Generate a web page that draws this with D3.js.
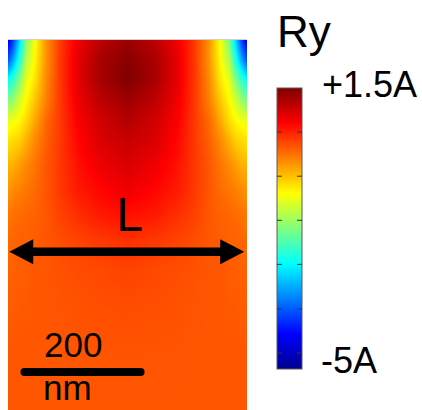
<!DOCTYPE html>
<html>
<head>
<meta charset="utf-8">
<script src="https://cdn.jsdelivr.net/npm/d3@7"></script>
<style>
  html, body { margin: 0; padding: 0; background: #fff; overflow: hidden; }
  text { font-family: "Liberation Sans", Arial, sans-serif; fill: #000; }
</style>
</head>
<body>
<svg id="chart" width="422" height="410"></svg>
<script>
// sample positions of the field (nm)
const xGrid = [0, 8, 18, 29, 43, 61, 84, 113, 148, 192.5, 237, 272, 301, 324, 342, 356, 367, 377, 385];
const yGrid = [0, 32, 64, 97, 129, 161, 201, 242, 282, 322, 370, 435, 515, 596];

// Ry values (in units of A), one row per yGrid entry
const field = [
  [-4.35, -3.83, -2.86, -1.75, -0.97, -0.26, 0.33, 0.79, 1.11, 1.31, 1.11, 0.79, 0.33, -0.26, -0.97, -1.75, -2.86, -3.83, -4.35],
  [-3.70, -3.18, -2.40, -1.43, -0.91, -0.26, 0.33, 0.85, 1.24, 1.44, 1.24, 0.85, 0.33, -0.26, -0.91, -1.43, -2.40, -3.18, -3.70],
  [-2.53, -2.27, -1.75, -1.10, -0.78, -0.19, 0.33, 0.85, 1.24, 1.50, 1.24, 0.85, 0.33, -0.19, -0.78, -1.10, -1.75, -2.27, -2.53],
  [-1.75, -1.62, -1.23, -0.91, -0.58, -0.13, 0.33, 0.79, 1.11, 1.31, 1.11, 0.79, 0.33, -0.13, -0.58, -0.91, -1.23, -1.62, -1.75],
  [-1.10, -1.04, -0.91, -0.71, -0.39, 0.01, 0.33, 0.72, 0.98, 1.18, 0.98, 0.72, 0.33, 0.01, -0.39, -0.71, -0.91, -1.04, -1.10],
  [-0.78, -0.71, -0.65, -0.45, -0.19, 0.07, 0.33, 0.66, 0.92, 1.05, 0.92, 0.66, 0.33, 0.07, -0.19, -0.45, -0.65, -0.71, -0.78],
  [-0.45, -0.45, -0.32, -0.19, -0.06, 0.14, 0.33, 0.59, 0.79, 0.92, 0.79, 0.59, 0.33, 0.14, -0.06, -0.19, -0.32, -0.45, -0.45],
  [-0.26, -0.19, -0.13, -0.06, 0.01, 0.14, 0.33, 0.53, 0.66, 0.79, 0.66, 0.53, 0.33, 0.14, 0.01, -0.06, -0.13, -0.19, -0.26],
  [-0.06, -0.03, 0.01, 0.04, 0.07, 0.14, 0.27, 0.40, 0.53, 0.59, 0.53, 0.40, 0.27, 0.14, 0.07, 0.04, 0.01, -0.03, -0.06],
  [0.01, 0.04, 0.07, 0.07, 0.10, 0.14, 0.20, 0.27, 0.33, 0.40, 0.33, 0.27, 0.20, 0.14, 0.10, 0.07, 0.07, 0.04, 0.01],
  [0.07, 0.07, 0.10, 0.10, 0.14, 0.14, 0.17, 0.20, 0.23, 0.27, 0.23, 0.20, 0.17, 0.14, 0.14, 0.10, 0.10, 0.07, 0.07],
  [0.10, 0.10, 0.12, 0.12, 0.14, 0.14, 0.15, 0.17, 0.18, 0.20, 0.18, 0.17, 0.15, 0.14, 0.14, 0.12, 0.12, 0.10, 0.10],
  [0.14, 0.14, 0.14, 0.14, 0.14, 0.14, 0.14, 0.15, 0.15, 0.15, 0.15, 0.15, 0.14, 0.14, 0.14, 0.14, 0.14, 0.14, 0.14],
  [0.14, 0.14, 0.14, 0.14, 0.14, 0.14, 0.14, 0.14, 0.14, 0.14, 0.14, 0.14, 0.14, 0.14, 0.14, 0.14, 0.14, 0.14, 0.14]
];

const valueDomain = [-5, 1.5];
const valueLabels = ["+1.5A", "-5A"];
const colorTicks = [0.48, -0.54, -1.56, -2.58, -3.61, -4.63];
const title = "Ry";
const arrowLabel = "L";
const arrowSpan = [2, 380.5];   // nm
const arrowDepth = 341;         // nm from top
const scaleBar = [20, 220];     // nm
const scaleBarText = ["200", "nm"];

const svg = d3.select("#chart");

// plot area
const x = d3.scaleLinear().domain([0, 385]).range([8, 247]);
const y = d3.scaleLinear().domain([0, 596]).range([40, 410]);

// jet colormap
const jetPos = [0, 0.125, 0.375, 0.625, 0.875, 1];
const jetCol = ["#00008f", "#0000ff", "#00ffff", "#ffff00", "#ff0000", "#800000"];
const jet = d3.scaleLinear().domain(jetPos).range(jetCol)
  .interpolate(d3.interpolateRgb).clamp(true);
const tOf = d3.scaleLinear().domain(valueDomain).range([0, 1]);

// find grid cell + fraction
function locate(grid, v) {
  let i = d3.bisectRight(grid, v) - 1;
  i = Math.max(0, Math.min(grid.length - 2, i));
  const f = Math.max(0, Math.min(1, (v - grid[i]) / (grid[i + 1] - grid[i])));
  return [i, f];
}

// render the field into an image
const x0 = x.range()[0], x1 = x.range()[1];
const y0 = y.range()[0], y1 = y.range()[1];
const W = Math.round(x1 - x0), H = Math.round(y1 - y0);
const canvas = document.createElement("canvas");
canvas.width = W;
canvas.height = H;
const ctx = canvas.getContext("2d");
const img = ctx.createImageData(W, H);
for (let py = 0; py < H; py++) {
  const [j, fy] = locate(yGrid, y.invert(y0 + py + 0.5));
  for (let px = 0; px < W; px++) {
    const [i, fx] = locate(xGrid, x.invert(x0 + px + 0.5));
    const a = field[j][i] * (1 - fx) + field[j][i + 1] * fx;
    const b = field[j + 1][i] * (1 - fx) + field[j + 1][i + 1] * fx;
    const v = a * (1 - fy) + b * fy;
    const c = d3.rgb(jet(tOf(v)));
    const k = (py * W + px) * 4;
    img.data[k] = c.r; img.data[k + 1] = c.g; img.data[k + 2] = c.b; img.data[k + 3] = 255;
  }
}
ctx.putImageData(img, 0, 0);

svg.append("image")
  .attr("x", x0).attr("y", y0)
  .attr("width", W).attr("height", H)
  .attr("preserveAspectRatio", "none")
  .attr("href", canvas.toDataURL());

svg.append("line")
  .attr("x1", x0).attr("x2", x1)
  .attr("y1", y0 - 0.5).attr("y2", y0 - 0.5)
  .attr("stroke", "#d0d0d0").attr("stroke-width", 1);

// double arrow "L"
const ay = y(arrowDepth);
const ax0 = x(arrowSpan[0]), ax1 = x(arrowSpan[1]);
const headL = 24, headH = 12.5;
svg.append("line")
  .attr("x1", ax0 + headL - 2).attr("x2", ax1 - headL + 2)
  .attr("y1", ay).attr("y2", ay)
  .attr("stroke", "#000").attr("stroke-width", 8.5);
svg.append("path")
  .attr("d", `M${ax0},${ay}L${ax0 + headL},${ay - headH}L${ax0 + headL},${ay + headH}Z`)
  .attr("fill", "#000");
svg.append("path")
  .attr("d", `M${ax1},${ay}L${ax1 - headL},${ay - headH}L${ax1 - headL},${ay + headH}Z`)
  .attr("fill", "#000");
svg.append("text")
  .attr("x", (ax0 + ax1) / 2 + 3).attr("y", 231)
  .attr("text-anchor", "middle")
  .style("font-size", "48px")
  .text(arrowLabel);

// scale bar
const sw = 8;
svg.append("line")
  .attr("x1", x(scaleBar[0]) + sw / 2).attr("x2", x(scaleBar[1]) - sw / 2)
  .attr("y1", 372).attr("y2", 372)
  .attr("stroke", "#000").attr("stroke-width", sw)
  .attr("stroke-linecap", "round");
svg.append("text").attr("x", 44).attr("y", 357)
  .style("font-size", "35px").text(scaleBarText[0]);
svg.append("text").attr("x", 43).attr("y", 400)
  .style("font-size", "35px").text(scaleBarText[1]);

// colorbar
const cbX = 277, cbW = 25;
const cb = d3.scaleLinear().domain(valueDomain).range([369, 88]);
const grad = svg.append("defs").append("linearGradient")
  .attr("id", "jetGrad")
  .attr("x1", 0).attr("y1", 1).attr("x2", 0).attr("y2", 0);
grad.selectAll("stop")
  .data(jetPos)
  .enter()
  .append("stop")
  .attr("offset", d => d)
  .attr("stop-color", (d, i) => jetCol[i]);

svg.append("rect")
  .attr("x", cbX).attr("y", cb(valueDomain[1]))
  .attr("width", cbW).attr("height", cb(valueDomain[0]) - cb(valueDomain[1]))
  .attr("fill", "url(#jetGrad)")
  .attr("stroke", "#5a5a5a").attr("stroke-width", 1);

const tickG = svg.append("g");
colorTicks.forEach(v => {
  tickG.append("line")
    .attr("x1", cbX).attr("x2", cbX + 5)
    .attr("y1", cb(v)).attr("y2", cb(v))
    .attr("stroke", "#333").attr("stroke-width", 1);
  tickG.append("line")
    .attr("x1", cbX + cbW - 5).attr("x2", cbX + cbW)
    .attr("y1", cb(v)).attr("y2", cb(v))
    .attr("stroke", "#333").attr("stroke-width", 1);
});

svg.append("text").attr("x", 322).attr("y", 97)
  .style("font-size", "36px").text(valueLabels[0]);
svg.append("text").attr("x", 321).attr("y", 373)
  .style("font-size", "36px").text(valueLabels[1]);

svg.append("text").attr("x", 277).attr("y", 47)
  .style("font-size", "44px").text(title);
</script>
</body>
</html>
